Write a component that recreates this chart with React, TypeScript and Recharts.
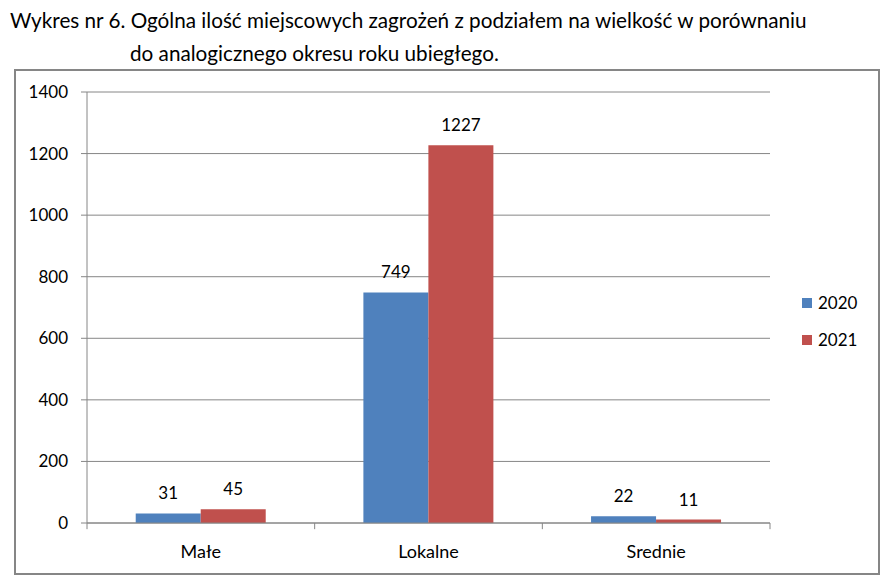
import { Bar, BarChart, CartesianGrid, LabelList, ReferenceLine, XAxis, YAxis } from "recharts";

const categories = ["Małe", "Lokalne", "Srednie"];
const values2020 = [31, 749, 22];
const values2021 = [45, 1227, 11];
const yTicks = [0, 200, 400, 600, 800, 1000, 1200, 1400];
const seriesNames = ["2020", "2021"];
const seriesColors = ["#4F81BD", "#C0504D"];

const data = categories.map((name, i) => ({
  name,
  y2020: values2020[i],
  y2021: values2021[i]
}));

const FONT = "Lato, 'Open Sans', sans-serif";
const GRAY = "#868686";

export default function App() {
  return (
    <div
      style={{
        position: "absolute",
        left: 0,
        top: 0,
        width: 894,
        height: 584,
        background: "#fff",
        fontFamily: FONT,
        color: "#000"
      }}
    >
      <div style={{ position: "absolute", left: 10, top: 8, fontSize: 20.7, whiteSpace: "nowrap" }}>
        Wykres nr 6. Ogólna ilość miejscowych zagrożeń z podziałem na wielkość w porównaniu
      </div>
      <div style={{ position: "absolute", left: 130, top: 41, fontSize: 20.7, whiteSpace: "nowrap" }}>
        do analogicznego okresu roku ubiegłego.
      </div>
      <div
        style={{
          position: "absolute",
          left: 14,
          top: 69,
          width: 862,
          height: 502,
          border: `2px solid ${GRAY}`
        }}
      />
      <div style={{ position: "absolute", left: 0, top: 0 }}>
        <BarChart
          width={894}
          height={584}
          data={data}
          margin={{ top: 92, right: 124, bottom: 31, left: 27 }}
          barCategoryGap="21.4%"
          barGap={0}
        >
          <CartesianGrid vertical={false} stroke={GRAY} />
          <XAxis
            dataKey="name"
            height={30}
            tickSize={0}
            tickMargin={22}
            tickLine={false}
            axisLine={{ stroke: GRAY }}
            tick={{ fill: "#000", fontSize: 18, fontFamily: FONT }}
          />
          <YAxis
            width={60}
            domain={[0, 1400]}
            ticks={yTicks}
            tickSize={6}
            tickMargin={13}
            axisLine={{ stroke: GRAY }}
            tickLine={{ stroke: GRAY }}
            tick={{ fill: "#000", fontSize: 17, fontFamily: FONT }}
          />
          {categories.map((c) => (
            <ReferenceLine
              key={c}
              segment={[
                { x: c, y: 0 },
                { x: c, y: -20 }
              ]}
              position="start"
              stroke={GRAY}
              ifOverflow="visible"
            />
          ))}
          <ReferenceLine
            segment={[
              { x: categories[categories.length - 1], y: 0 },
              { x: categories[categories.length - 1], y: -20 }
            ]}
            position="end"
            stroke={GRAY}
            ifOverflow="visible"
          />
          <Bar dataKey="y2020" name={seriesNames[0]} fill={seriesColors[0]} isAnimationActive={false}>
            <LabelList dataKey="y2020" position="top" offset={14} fill="#000" fontSize={17} fontFamily={FONT} />
          </Bar>
          <Bar dataKey="y2021" name={seriesNames[1]} fill={seriesColors[1]} isAnimationActive={false}>
            <LabelList dataKey="y2021" position="top" offset={14} fill="#000" fontSize={17} fontFamily={FONT} />
          </Bar>
        </BarChart>
      </div>
      {seriesNames.map((s, i) => (
        <div
          key={s}
          style={{
            position: "absolute",
            left: 802,
            top: 292 + i * 37,
            display: "flex",
            alignItems: "center",
            fontSize: 17,
            lineHeight: "22px"
          }}
        >
          <span style={{ width: 10, height: 10, background: seriesColors[i], marginRight: 6, display: "inline-block" }} />
          {s}
        </div>
      ))}
    </div>
  );
}
